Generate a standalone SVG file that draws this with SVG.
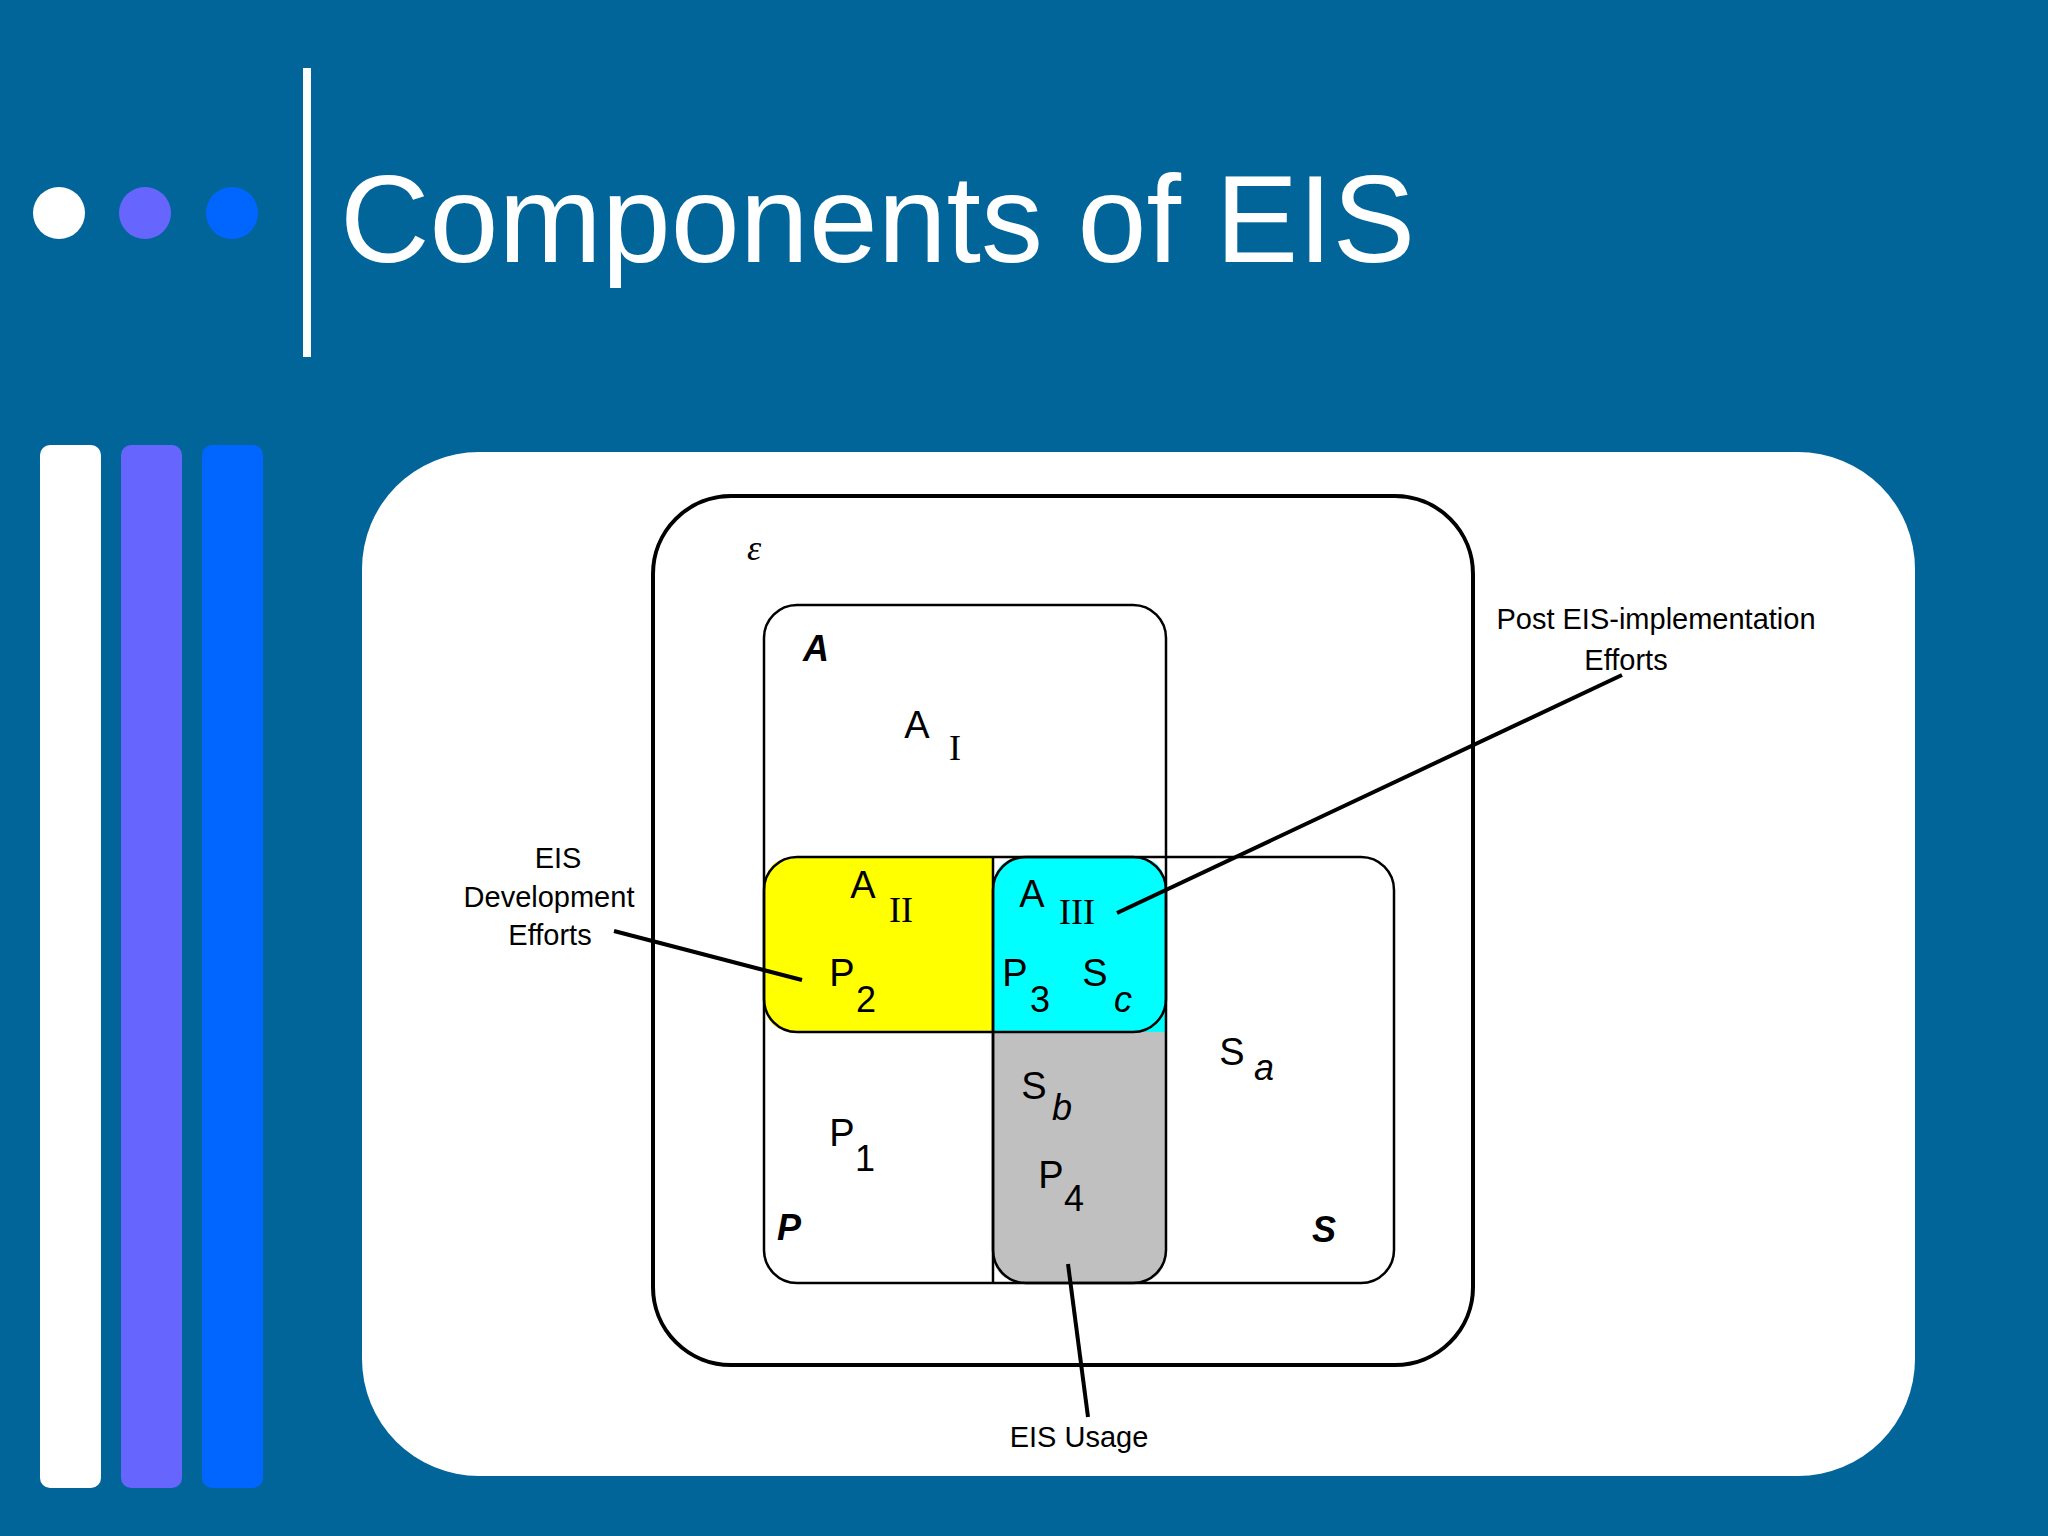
<svg xmlns="http://www.w3.org/2000/svg" width="2048" height="1536" viewBox="0 0 2048 1536">
<style>
.t{font-family:"Liberation Sans",Arial,sans-serif;fill:#000;text-anchor:middle}
.m{font-size:38px}
.sub{font-size:36px}
.r{font-family:"Liberation Serif","Times New Roman",serif;font-size:36px;fill:#000;text-anchor:middle}
.bi{font-family:"Liberation Sans",Arial,sans-serif;font-size:36px;font-weight:bold;font-style:italic;text-anchor:middle}
.lab{font-size:29px}
.box{fill:none;stroke:#000;stroke-width:2.5}
.ln{stroke:#000;stroke-width:4;fill:none}
</style>
<rect width="2048" height="1536" fill="#02659A"/>
<g id="header">
<circle cx="59" cy="213" r="26" fill="#fff"/>
<circle cx="145" cy="213" r="26" fill="#6666FF"/>
<circle cx="232" cy="213" r="26" fill="#0066FF"/>
<rect x="303" y="68" width="8" height="289" fill="#fff"/>
<text x="340" y="262" font-family="Liberation Sans,Arial,sans-serif" font-size="124" fill="#fff">Components of EIS</text>
<rect x="40" y="445" width="61" height="1043" rx="10" fill="#fff"/>
<rect x="121" y="445" width="61" height="1043" rx="10" fill="#6666FF"/>
<rect x="202" y="445" width="61" height="1043" rx="10" fill="#0066FF"/>
</g>
<g id="panel"><rect x="362" y="452" width="1553" height="1024" rx="117" fill="#fff"/></g>
<g id="regions">
<path d="M993 857 H797 Q764 857 764 890 V999 Q764 1032 797 1032 H993 Z" fill="#FFFF00"/>
<path d="M993 1032 V890 Q993 857 1026 857 H1133 Q1166 857 1166 890 V1032 Z" fill="#00FFFF"/>
<path d="M993 1032 V1250 Q993 1283 1026 1283 H1133 Q1166 1283 1166 1250 V1032 Z" fill="#C0C0C0"/>
</g>
<g id="E"><rect x="653" y="496" width="820" height="869" rx="78" fill="none" stroke="#000" stroke-width="4"/>
<text x="754" y="560" class="r" font-style="italic">ε</text></g>
<g id="A"><rect class="box" x="764" y="605" width="402" height="427" rx="33"/><text x="816" y="661" class="bi">A</text></g>
<g id="P"><rect class="box" x="764" y="857" width="402" height="426" rx="33"/><text x="789" y="1240" class="bi">P</text></g>
<g id="S"><rect class="box" x="993" y="857" width="401" height="426" rx="33"/><text x="1324" y="1242" class="bi">S</text></g>
<line class="box" x1="993" y1="857" x2="993" y2="1283"/>
<g id="labels">
<text x="917" y="738" class="t m">A</text><text x="955" y="760" class="r">I</text>
<text x="863" y="898" class="t m">A</text><text x="901" y="922" class="r">II</text>
<text x="842" y="986" class="t m">P</text><text x="866" y="1012" class="t sub">2</text>
<text x="1032" y="907" class="t m">A</text><text x="1077" y="924" class="r">III</text>
<text x="1015" y="986" class="t m">P</text><text x="1040" y="1012" class="t sub">3</text>
<text x="1095" y="986" class="t m">S</text><text x="1123" y="1012" class="t sub" font-style="italic">c</text>
<text x="1232" y="1065" class="t m">S</text><text x="1264" y="1080" class="t sub" font-style="italic">a</text>
<text x="1034" y="1099" class="t m">S</text><text x="1062" y="1120" class="t sub" font-style="italic">b</text>
<text x="842" y="1146" class="t m">P</text><text x="865" y="1171" class="t sub">1</text>
<text x="1051" y="1188" class="t m">P</text><text x="1074" y="1211" class="t sub">4</text>
</g>
<g id="callouts">
<text x="558" y="868" class="t lab">EIS</text>
<text x="549" y="907" class="t lab">Development</text>
<text x="550" y="945" class="t lab">Efforts</text>
<text x="1656" y="629" class="t lab">Post EIS-implementation</text>
<text x="1626" y="670" class="t lab">Efforts</text>
<text x="1079" y="1447" class="t lab">EIS Usage</text>
</g>
<g id="connectors">
<line class="ln" x1="614" y1="931" x2="802" y2="980"/>
<line class="ln" x1="1622" y1="675" x2="1117" y2="913"/>
<line class="ln" x1="1068" y1="1264" x2="1088" y2="1417"/>
</g>
</svg>
